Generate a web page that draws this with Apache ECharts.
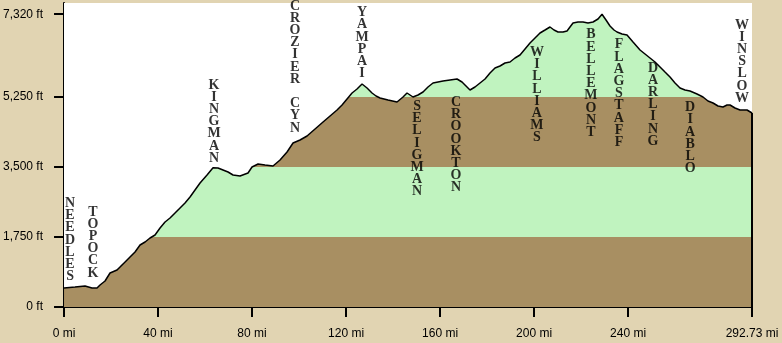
<!DOCTYPE html>
<html><head><meta charset="utf-8">
<script src="https://cdn.jsdelivr.net/npm/echarts@6/dist/echarts.min.js"></script>
<style>html,body{margin:0;padding:0;background:#e1d4b2;}#c{width:782px;height:343px;}</style>
</head><body><div id="c"></div>
<script>
// Route profile: miles along route and elevation (ft)
const miles = [0,4.68,8.94,11.91,14.04,15.32,17.45,19.57,22.55,23.83,26.81,28.08,30.21,32.34,34.47,36.59,38.72,40.85,42.98,45.10,47.23,49.36,51.48,53.61,55.74,57.87,60.85,63.40,65.52,67.65,69.78,71.91,74.89,75.74,78.29,79.99,82.55,85.53,88.93,91.91,94.89,97.44,100.42,103.40,106.80,110.21,113.19,116.16,118.29,120.42,122.55,124.67,126.80,128.93,131.05,132.76,134.46,137.86,141.69,144.24,145.94,148.49,150.62,152.75,154.87,157.00,159.13,161.26,164.24,167.21,169.34,171.04,172.74,174.87,177.00,179.13,181.25,183.38,185.51,187.64,189.76,191.89,194.02,196.15,198.27,200.40,202.53,204.66,206.78,208.49,210.19,212.31,214.02,215.29,216.57,218.70,220.82,222.95,225.08,227.21,228.91,230.61,232.31,234.01,235.29,237.42,239.55,242.10,245.08,247.21,249.33,251.46,253.59,255.71,257.84,259.97,262.10,264.22,266.35,269.33,271.88,274.01,276.14,278.27,280.39,282.10,283.37,285.50,287.63,290.61,292.73];
const elevations = [475,500,525,475,475,550,650,850,925,1000,1175,1250,1375,1550,1625,1725,1800,1975,2125,2225,2350,2475,2600,2750,2925,3100,3300,3480,3475,3425,3375,3300,3275,3250,3350,3500,3575,3550,3525,3675,3875,4100,4175,4275,4450,4625,4775,4925,5050,5200,5350,5450,5575,5475,5350,5275,5225,5175,5125,5250,5350,5250,5300,5375,5500,5600,5625,5650,5675,5700,5625,5525,5425,5500,5600,5700,5850,5975,6025,6100,6125,6225,6300,6450,6600,6725,6850,6925,7000,6925,6875,6875,6900,7000,7100,7125,7125,7100,7125,7200,7320,7175,7025,6925,6875,6825,6800,6625,6425,6325,6225,6125,6000,5875,5750,5600,5475,5425,5400,5325,5250,5150,5100,5025,5000,5050,5050,4975,4925,4925,4850];

// Elevation bands (ft)
const bandEdges = [0,1750,3500,5250,7600];
const bandColors = ['#a88f62','#c0f3bf','#a88f62','#c0f3bf'];

// Axis ticks
const xTicks = [0,40,80,120,160,200,240,292.73];
const yTicks = [0,1750,3500,5250,7320];

// Town labels: name, mile, elevation of label centre
const townNames = ['NEEDLES','TOPOCK','KINGMAN','CROZIER CYN','YAMPAI','SELIGMAN','CROOKTON','WILLIAMS','BELLEMONT','FLAGSTAFF','DARLING','DIABLO','WINSLOW'];
const townMiles = [2.55,12.34,63.82,98.29,126.8,150.2,166.8,201.2,224.2,236.1,250.6,266.4,288.5];
const townLabelElev = [1675,1612,4637,6000,6600,3950,4050,5300,5587,5337,5062,4225,6137];

const profile = miles.map((m,i)=>[m,elevations[i]]);
const bands = bandColors.map((c,i)=>[{yAxis:bandEdges[i],itemStyle:{color:c}},{yAxis:bandEdges[i+1]}]);
const towns = townNames.map((n,i)=>({value:[townMiles[i],townLabelElev[i]],name:n}));

const chart = echarts.init(document.getElementById('c'));
chart.setOption({
  backgroundColor:'#e1d4b2',
  animation:false,
  grid:{left:64,right:30,top:3,bottom:36,containLabel:false},
  xAxis:{type:'value',min:0,max:292.73,
    axisLine:{show:true,lineStyle:{color:'#000',width:2}},
    axisTick:{show:true,length:10,lineStyle:{color:'#000',width:2},customValues:xTicks},
    axisLabel:{customValues:xTicks,margin:21,color:'#000',fontFamily:'Liberation Sans',fontSize:12,
      formatter:v=>v+' mi'},
    splitLine:{show:false}},
  yAxis:{type:'value',min:0,max:7600,
    axisLine:{show:true,lineStyle:{color:'#000',width:2}},
    axisTick:{show:true,length:10,lineStyle:{color:'#000',width:2},customValues:yTicks},
    axisLabel:{customValues:yTicks,margin:21,color:'#000',fontFamily:'Liberation Sans',fontSize:12,
      formatter:v=>v.toLocaleString('en-US')+' ft'},
    splitLine:{show:false}},
  series:[
    {type:'line',data:[],z:1,silent:true,markArea:{silent:true,data:bands}},
    {type:'line',data:profile,z:3,symbol:'none',silent:true,
      lineStyle:{color:'#000',width:1.5},
      areaStyle:{color:'#ffffff',opacity:1,origin:'end'},
      markLine:{silent:true,symbol:'none',label:{show:false},lineStyle:{color:'#000',width:2,type:'solid'},
        data:[[{coord:[miles[miles.length-1],elevations[elevations.length-1]]},{coord:[miles[miles.length-1],0]}]]}},
    {type:'scatter',data:towns,z:5,symbolSize:0,clip:false,silent:true,
      label:{show:true,position:'inside',color:'#000',fontFamily:'Liberation Serif',fontWeight:'bold',fontSize:14,
        lineHeight:12.2,align:'center',verticalAlign:'middle',
        formatter:p=>p.name.split('').join('\n')}}
  ]
});
</script></body></html>
